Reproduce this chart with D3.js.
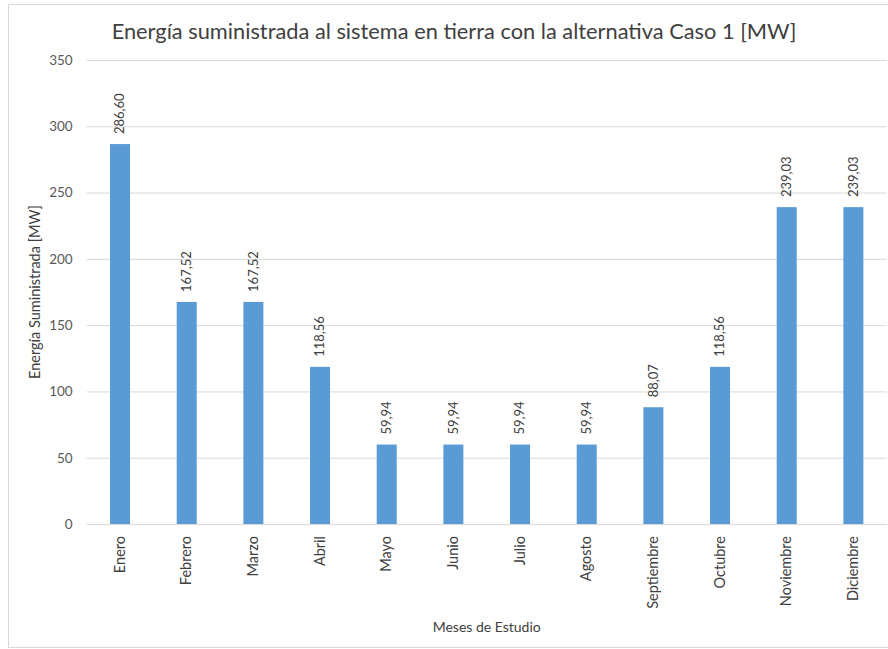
<!DOCTYPE html>
<html>
<head>
<meta charset="utf-8">
<script src="https://cdn.jsdelivr.net/npm/d3@7"></script>
<style>
  html, body { margin: 0; padding: 0; background: #fff; }
  svg text { font-family: Lato, "Open Sans", sans-serif; }
</style>
</head>
<body>
<svg id="chart" width="888" height="649"></svg>
<script>
const months = ["Enero", "Febrero", "Marzo", "Abril", "Mayo", "Junio", "Julio",
                "Agosto", "Septiembre", "Octubre", "Noviembre", "Diciembre"];
const energyMW = [286.60, 167.52, 167.52, 118.56, 59.94, 59.94, 59.94,
                  59.94, 88.07, 118.56, 239.03, 239.03];
const yTicks = [0, 50, 100, 150, 200, 250, 300, 350];

const svg = d3.select("#chart");
const plot = { left: 86.7, right: 886.7, top: 60, bottom: 524 };

// chart frame
svg.append("rect")
  .attr("x", 8.5).attr("y", 4.5)
  .attr("width", 900).attr("height", 643)
  .attr("fill", "#fff").attr("stroke", "#d9d9d9").attr("stroke-width", 1);

const x = d3.scaleBand().domain(months)
  .range([plot.left, plot.right]).paddingInner(0.7).paddingOuter(0.35);
const y = d3.scaleLinear().domain([0, 350]).range([plot.bottom, plot.top]);

// horizontal gridlines + y tick labels
const yAxis = d3.axisLeft(y).tickValues(yTicks).tickSize(-(plot.right - plot.left))
  .tickPadding(14).tickFormat(d3.format("d"));
const gy = svg.append("g").attr("transform", `translate(${plot.left},0)`).call(yAxis);
gy.select(".domain").remove();
gy.selectAll(".tick line").attr("stroke", "#d9d9d9");
gy.selectAll(".tick text").attr("fill", "#595959").attr("font-size", 13.5);

// bars
svg.append("g").selectAll("rect").data(months).join("rect")
  .attr("x", d => x(d))
  .attr("width", x.bandwidth())
  .attr("y", (d, i) => y(energyMW[i]))
  .attr("height", (d, i) => y(0) - y(energyMW[i]))
  .attr("fill", "#5b9bd5");

// value labels above bars
const fmt = v => v.toFixed(2).replace(".", ",");
svg.append("g").selectAll("text").data(months).join("text")
  .attr("transform", (d, i) =>
    `translate(${x(d) + x.bandwidth() / 2 + 1},${y(energyMW[i]) - 10}) rotate(-90)`)
  .attr("text-anchor", "start")
  .attr("dominant-baseline", "middle")
  .attr("font-size", 13)
  .attr("fill", "#404040")
  .text((d, i) => fmt(energyMW[i]));

// x axis category labels (rotated)
const xAxis = d3.axisBottom(x).tickSize(0).tickPadding(0);
const gx = svg.append("g").attr("transform", `translate(0,${plot.bottom})`).call(xAxis);
gx.select(".domain").attr("stroke", "#d9d9d9");
gx.selectAll(".tick text")
  .attr("font-size", 14.5)
  .attr("fill", "#404040")
  .attr("text-anchor", "end")
  .attr("dominant-baseline", "middle")
  .attr("transform", "translate(1,12) rotate(-90)")
  .attr("x", 0).attr("y", 0).attr("dy", null);

// titles
svg.append("text")
  .attr("x", 454).attr("y", 39)
  .attr("text-anchor", "middle")
  .attr("font-size", 21.8)
  .attr("fill", "#404040")
  .text("Energía suministrada al sistema en tierra con la alternativa Caso 1 [MW]");

svg.append("text")
  .attr("x", (plot.left + plot.right) / 2).attr("y", 632)
  .attr("text-anchor", "middle")
  .attr("font-size", 14)
  .attr("fill", "#404040")
  .text("Meses de Estudio");

svg.append("text")
  .attr("transform", `translate(40,${(plot.top + plot.bottom) / 2}) rotate(-90)`)
  .attr("text-anchor", "middle")
  .attr("font-size", 14.5)
  .attr("fill", "#404040")
  .text("Energía Suministrada [MW]");
</script>
</body>
</html>
